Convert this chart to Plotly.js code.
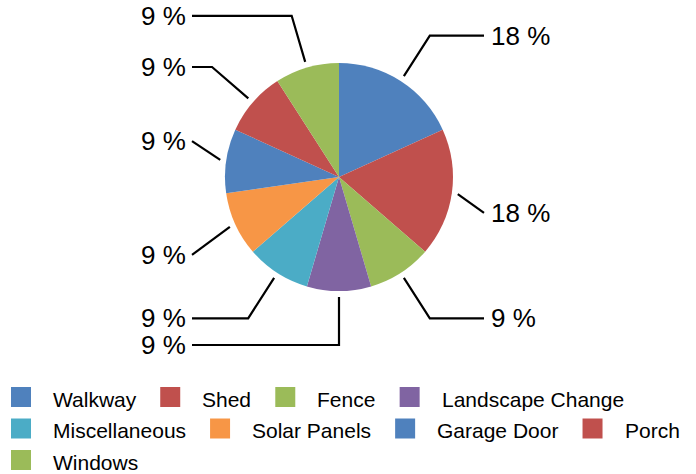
<!DOCTYPE html>
<html>
<head>
<meta charset="utf-8">
<script src="https://cdn.plot.ly/plotly-3.0.1.min.js"></script>
<style>html,body{margin:0;padding:0;background:#fff;}#chart{width:696px;height:474px;}</style>
</head>
<body>
<div id="chart"></div>
<script>
// ---- data ----
const categories = ["Walkway", "Shed", "Fence", "Landscape Change", "Miscellaneous", "Solar Panels", "Garage Door", "Porch", "Windows"];
const counts = [2, 2, 1, 1, 1, 1, 1, 1, 1];
const colors = ["#4F81BD", "#C0504D", "#9BBB59", "#8064A2", "#4BACC6", "#F79646", "#4F81BD", "#C0504D", "#9BBB59"];

// ---- layout config (pixels) ----
const W = 696, H = 474;
const CX = 339, CY = 177, R = 114;
const ANCHOR_GAP = 6, ELBOW_R = 168;
const RIGHT_EDGE = 484, LEFT_EDGE = 192;
const labelNudgeY = [0, 12, 0, 0, 0, 8, -12, 0, 0];
const FONT = 'Liberation Sans, Arial, sans-serif';
const LEG = {x0: 11, top: 387, rowH: 31.5, box: 20, textOff: 42, gap: 24, size: 21, maxX: 696};

const px = x => x / W;
const py = y => 1 - y / H;

const total = counts.reduce((a, b) => a + b, 0);
const shapes = [];
const annotations = [];

// data labels with leader lines
let cum = 0;
counts.forEach((v, i) => {
  const th = 2 * Math.PI * (cum + v / 2) / total;
  cum += v;
  const s = Math.sin(th), c = Math.cos(th);
  const ax = CX + (R + ANCHOR_GAP) * s, ay = CY - (R + ANCHOR_GAP) * c;
  const ex = CX + ELBOW_R * s, ey = CY - ELBOW_R * c;
  const right = s > 1e-6;
  const edge = right ? RIGHT_EDGE : LEFT_EDGE;
  const ly = ey + labelNudgeY[i];
  let path;
  if ((right && ex > edge) || (!right && ex < edge)) {
    path = `M${px(ax)},${py(ay)} L${px(edge)},${py(ly)}`;
  } else {
    path = `M${px(ax)},${py(ay)} L${px(ex)},${py(ly)} L${px(edge)},${py(ly)}`;
  }
  shapes.push({type: 'path', xref: 'paper', yref: 'paper', path: path,
    line: {color: '#000', width: 2.2}});
  annotations.push({xref: 'paper', yref: 'paper',
    x: px(right ? edge + 5 : edge - 4), y: py(ly),
    xanchor: right ? 'left' : 'right', yanchor: 'middle',
    text: Math.round(v / total * 100) + ' %', showarrow: false,
    font: {family: FONT, size: 26, color: '#000'}});
});

// legend (flow layout, measured text widths)
const ctx = document.createElement('canvas').getContext('2d');
ctx.font = LEG.size + 'px "Liberation Sans", Arial, sans-serif';
let lx = LEG.x0, row = 0;
categories.forEach((name, i) => {
  const tw = ctx.measureText(name).width;
  if (lx + LEG.textOff + tw > LEG.maxX && lx > LEG.x0) { lx = LEG.x0; row++; }
  const top = LEG.top + row * LEG.rowH;
  shapes.push({type: 'rect', xref: 'paper', yref: 'paper',
    x0: px(lx), x1: px(lx + LEG.box), y0: py(top + LEG.box), y1: py(top),
    fillcolor: colors[i], line: {width: 0}});
  annotations.push({xref: 'paper', yref: 'paper',
    x: px(lx + LEG.textOff - 2), y: py(top + LEG.box / 2 + 2),
    xanchor: 'left', yanchor: 'middle', text: name, showarrow: false,
    font: {family: FONT, size: LEG.size, color: '#000'}});
  lx += LEG.textOff + tw + LEG.gap;
});

const trace = {
  type: 'pie',
  labels: categories,
  values: counts,
  sort: false,
  direction: 'clockwise',
  rotation: 0,
  textinfo: 'none',
  hoverinfo: 'none',
  showlegend: false,
  marker: {colors: colors, line: {width: 0}},
  domain: {x: [px(CX - R), px(CX + R)], y: [py(CY + R), py(CY - R)]}
};

const layout = {
  width: W, height: H,
  margin: {l: 0, r: 0, t: 0, b: 0},
  paper_bgcolor: '#fff',
  showlegend: false,
  shapes: shapes,
  annotations: annotations
};

Plotly.newPlot('chart', [trace], layout, {staticPlot: true, displayModeBar: false});
</script>
</body>
</html>
